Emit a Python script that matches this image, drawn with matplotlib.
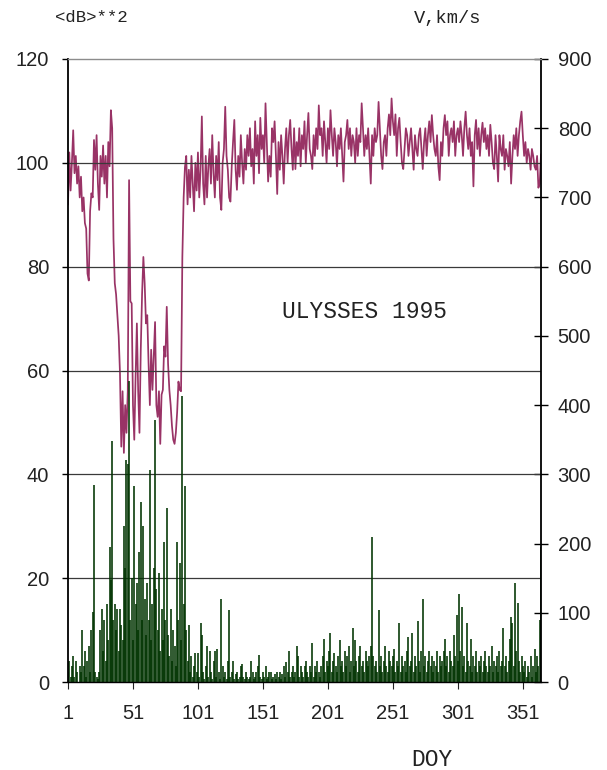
import numpy as np
import matplotlib
matplotlib.use("Agg")
import matplotlib.pyplot as plt

# solar wind speed, km/s, one value per day (DOY 1..365)
speed = [
    690, 765, 710, 750, 797, 735, 760, 720, 745, 700,
    730, 680, 700, 663, 655, 590, 580, 680, 706, 700,
    783, 740, 790, 720, 682, 760, 730, 775, 720, 760,
    700, 780, 745, 826, 800, 640, 576, 560, 530, 500,
    446, 340, 420, 331, 400, 360, 420, 725, 550, 547,
    400, 350, 440, 518, 420, 360, 480, 560, 614, 576,
    518, 530, 460, 400, 480, 422, 470, 520, 400, 383,
    420, 344, 415, 422, 485, 470, 542, 460, 422, 400,
    370, 350, 344, 360, 390, 434, 422, 420, 614, 700,
    744, 760, 690, 740, 700, 760, 720, 680, 750, 710,
    765, 700, 740, 817, 720, 690, 760, 700, 745, 770,
    720, 790, 735, 700, 760, 725, 780, 700, 682, 750,
    770, 831, 760, 740, 700, 694, 745, 780, 812, 740,
    711, 760, 730, 790, 750, 720, 770, 740, 790, 760,
    800, 745, 770, 720, 810, 760, 790, 735, 815, 770,
    790, 750, 836, 780, 723, 760, 730, 800, 780, 810,
    760, 705, 780, 740, 790, 760, 720, 770, 800, 750,
    790, 812, 770, 740, 800, 741, 780, 760, 800, 745,
    790, 770, 810, 750, 790, 822, 770, 760, 741, 790,
    760, 800, 770, 833, 790, 800, 760, 810, 780, 750,
    800, 770, 826, 790, 760, 800, 780, 745, 790, 770,
    800, 760, 723, 780, 790, 812, 770, 800, 760, 790,
    780, 750, 800, 760, 790, 780, 836, 800, 760, 790,
    770, 800, 760, 720, 790, 760, 800, 780, 790, 838,
    800, 760, 741, 780, 790, 760, 800, 820, 790, 843,
    810, 790, 820, 760, 800, 815, 780, 750, 741, 770,
    800, 790, 760, 780, 800, 770, 740, 790, 770, 760,
    790, 800, 770, 741, 780, 800, 760, 790, 810, 780,
    819, 790, 770, 760, 790, 745, 725, 780, 760, 800,
    819, 790, 810, 760, 790, 800, 780, 810, 760, 790,
    800, 780, 810, 790, 760, 800, 824, 790, 770, 800,
    760, 780, 716, 790, 812, 770, 800, 760, 790, 808,
    780, 800, 770, 790, 760, 805, 780, 750, 741, 790,
    760, 723, 790, 770, 760, 790, 740, 770, 760, 745,
    780, 720, 760, 790, 770, 800, 760, 790, 810, 824,
    790, 760, 780, 750, 770, 760, 740, 770, 760, 745,
    740, 760, 714, 720, 762,
]

# <dB>**2, one value per day
db2 = [
    2, 4, 1, 3, 5, 1, 4, 2, 0, 3,
    2, 10, 3, 6, 1, 4, 7, 2, 10, 13.5,
    38, 2, 1, 0.5, 2, 10, 14, 6, 12, 4,
    15, 8, 26, 19.6, 46.4, 12, 15, 10, 14, 6,
    14, 11, 8, 30, 22, 42.8, 42, 58, 12, 20,
    8, 37.8, 15, 19, 10, 25, 34.7, 12, 30, 16,
    9, 19, 12, 40.8, 8, 15, 22, 50.5, 18, 10,
    21, 6, 14, 8, 27, 12, 33.5, 9, 5, 14,
    4, 10, 7, 3, 27, 12, 23, 8, 55, 15,
    37.8, 10, 4, 11, 2, 5, 1, 3, 5.5, 2,
    5.5, 1, 11.3, 9, 2, 0.5, 3, 7, 1, 6,
    2, 0.5, 4, 6, 1, 6.3, 2, 0.5, 16, 3,
    1, 2, 0.5, 4, 13.9, 1, 2, 4, 0.5, 1.5,
    2, 0.5, 1, 3, 3.5, 1, 0.5, 2, 1, 0.5,
    1, 4, 2, 0.5, 1, 2, 3, 5.2, 1, 0.5,
    2, 1, 3, 0.5, 1, 2, 2, 0.5, 1, 1.5,
    0.5, 2, 1, 2, 0.5, 1.5, 3, 1, 3.8, 2,
    6, 1, 2, 3, 1, 2, 7, 5, 1, 3,
    2, 1, 3, 4, 2, 1, 3, 2, 7.5, 1,
    3, 2, 4, 2, 1, 3, 5, 8.3, 2, 4,
    3, 6, 9.5, 2, 4, 5.6, 3, 2, 5, 8,
    3, 4, 2, 6, 3, 5, 7, 2, 4, 10.4,
    3, 8, 4, 2, 5, 7, 3, 4, 2, 6,
    4, 3, 5, 7, 28, 5, 3, 4, 2, 13.8,
    3, 5, 2, 4, 6.9, 3, 2, 6, 4, 3,
    5, 6.4, 2, 4, 3, 11.3, 2, 5, 3, 4,
    2, 6, 8.7, 3, 4, 9.4, 2, 5, 3, 11.7,
    4, 2, 6, 16, 3, 5, 2, 4, 6, 3,
    5, 2, 4, 3, 6, 2, 5, 3, 4, 6,
    8.3, 3, 5, 2, 6, 4, 3, 9, 5, 12.9,
    4, 17, 6, 14.4, 3, 5, 2, 11.3, 4, 3,
    8.3, 2, 5, 3, 6, 2, 4, 3, 5, 2,
    4, 6, 3, 2, 5, 3, 6.9, 2, 4, 3,
    5, 2, 6, 3, 4, 10.4, 3, 5, 2, 4,
    8.3, 12.5, 11.3, 3, 19.1, 6, 15.2, 4, 2, 5,
    3, 2, 4, 1, 3, 2, 5, 1, 3, 6.4,
    2, 5, 3, 12, 26,
]

days = np.arange(1, len(speed) + 1)
xticks = list(range(1, 352, 50))
left_ticks = list(range(0, 121, 20))
right_ticks = list(range(0, 901, 100))

W, H = 607, 770
fig = plt.figure(figsize=(W / 100, H / 100), dpi=100)
ax = fig.add_axes([68 / W, 1 - 682 / H, (541 - 68) / W, (682 - 59) / H])
ax2 = ax.twinx()

ax2.plot(days, speed, color='#993366', lw=1.25)
ax.vlines(days, 0, db2[:len(days)], color='#003300', lw=1.15)

# green on top of the speed curve
ax.set_zorder(ax2.get_zorder() + 1)
ax.patch.set_visible(False)

ax.set_xlim(1, 365)
ax.set_ylim(0, 120)
ax2.set_ylim(0, 900)
ax.set_xticks(xticks)
ax.set_yticks(left_ticks)
ax2.set_yticks(right_ticks)

for y in left_ticks[1:-1]:
    ax.axhline(y, color='#3a3a3a', lw=0.9, zorder=0.5)

sans = ['Liberation Sans', 'DejaVu Sans']
mono = ['Liberation Mono', 'DejaVu Sans Mono']
for lab in ax.get_xticklabels() + ax.get_yticklabels() + ax2.get_yticklabels():
    lab.set_family(sans)
    lab.set_fontsize(14.5)
    lab.set_color('#222222')

ax.tick_params(axis='y', direction='out', length=4.5, width=1, pad=9)
ax.tick_params(axis='x', direction='out', length=5, width=0.8, pad=11, colors='#222222')
ax2.tick_params(axis='y', direction='inout', length=10, width=1, pad=7)

for s in ax2.spines.values():
    s.set_visible(False)
ax.spines['top'].set_color('#8c8c8c')
ax.spines['top'].set_linewidth(1.0)
ax.spines['left'].set_linewidth(1.3)
ax.spines['right'].set_linewidth(1.3)
ax.spines['bottom'].set_linewidth(1.0)

fig.text(55 / W, 1 - 18 / H, '<dB>**2', family=mono, fontsize=12.5,
         ha='left', va='center', color='#222222')
fig.text(481 / W, 1 - 18 / H, 'V,km/s', family=mono, fontsize=13.5,
         ha='right', va='center', color='#222222')
fig.text(364 / W, 1 - 312 / H, 'ULYSSES 1995', family=mono, fontsize=16.5,
         ha='center', va='center', color='#222222')
fig.text(432 / W, 1 - 760 / H, 'DOY', family=mono, fontsize=16.5,
         ha='center', va='center', color='#222222')

fig.savefig('out.png', dpi=100)
